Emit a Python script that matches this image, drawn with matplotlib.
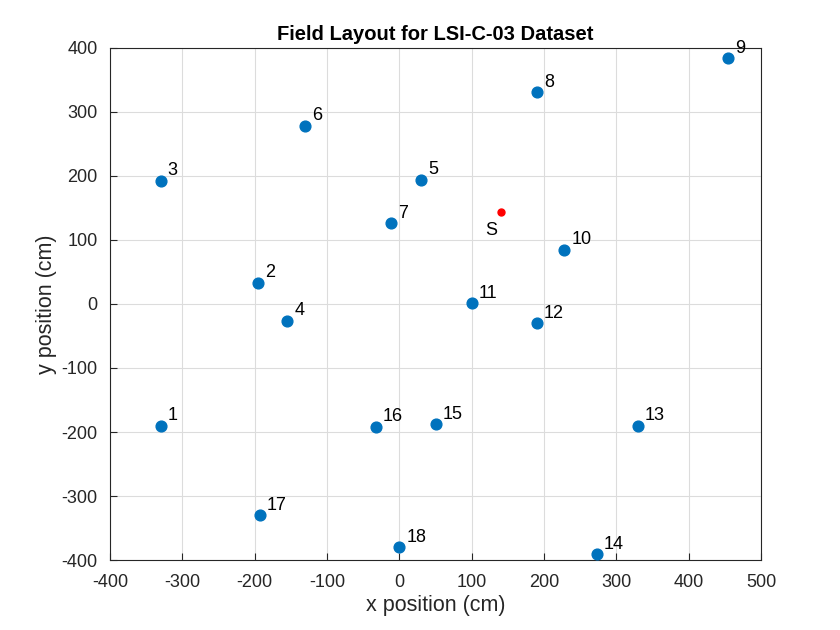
import matplotlib
matplotlib.use("Agg")
import matplotlib.pyplot as plt

# sensor positions (cm)
sensor_ids = list(range(1, 19))
sensor_x = [-330, -195, -330, -155, 30, -130, -12, 190, 455, 228, 100, 190, 330, 273, 50, -33, -193, 0]
sensor_y = [-190, 33, 192, -26, 194, 278, 126, 331, 384, 85, 1, -30, -190, -391, -188, -192, -330, -380]

source_x = [140]
source_y = [143]

plt.rcParams["font.family"] = ["Liberation Sans", "DejaVu Sans"]
plt.rcParams["axes.unicode_minus"] = False

fig = plt.figure(figsize=(8.4, 6.3), dpi=100)
ax = fig.add_axes([0.131, 0.111, 0.775, 0.813])

ax.scatter(sensor_x, sensor_y, s=60, color="#0072BD", zorder=3)
for i, x, y in zip(sensor_ids, sensor_x, sensor_y):
    ax.annotate(str(i), (x, y), xytext=(5, 4), textcoords="offset points",
                fontsize=13, color="black")

ax.scatter(source_x, source_y, s=25, color="#FF0000", zorder=3)
ax.annotate("S", (source_x[0], source_y[0]), xytext=(-11, -16), textcoords="offset points",
            fontsize=13, color="black")

ax.set_xlim(-400, 500)
ax.set_ylim(-400, 400)
ax.set_xticks(range(-400, 501, 100))
ax.set_yticks(range(-400, 401, 100))
ax.grid(True, color="#dcdcdc", linewidth=0.8)
ax.set_axisbelow(True)
ax.tick_params(direction="in", labelsize=13, colors="#262626", length=5, width=0.8)
ax.tick_params(axis="x", pad=10)
ax.tick_params(axis="y", pad=9)
for sp in ax.spines.values():
    sp.set_color("#262626")
    sp.set_linewidth(0.8)

ax.set_xlabel("x position (cm)", fontsize=15.5, color="#262626", labelpad=3)
ax.set_ylabel("y position (cm)", fontsize=15.5, color="#262626", labelpad=3)
ax.set_title("Field Layout for LSI-C-03 Dataset", fontsize=14.5, fontweight="bold", pad=6)

fig.savefig("out.png", dpi=100)
